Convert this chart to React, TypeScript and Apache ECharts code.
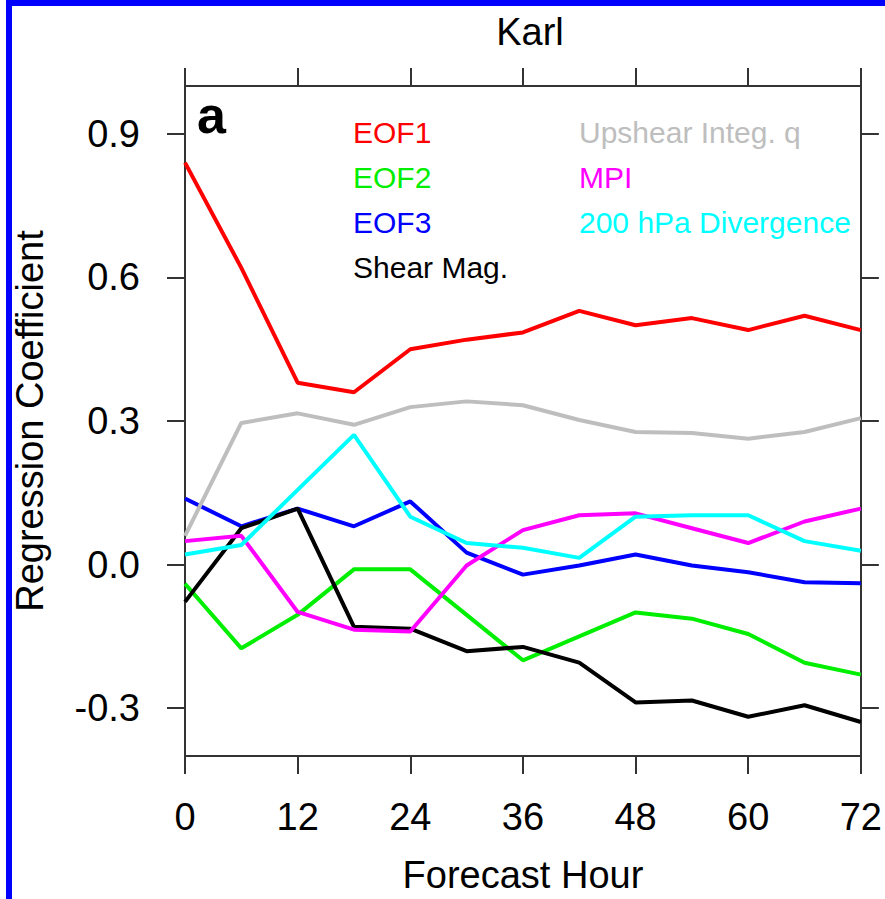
import React, { useEffect, useRef } from "react";
import * as echarts from "echarts";

const hours = [0, 6, 12, 18, 24, 30, 36, 42, 48, 54, 60, 66, 72];
const xTicks = [0, 12, 24, 36, 48, 60, 72];
const yTicks = [-0.3, 0, 0.3, 0.6, 0.9];

const eof1 = [0.84, 0.62, 0.38, 0.36, 0.45, 0.47, 0.485, 0.53, 0.5, 0.515, 0.49, 0.52, 0.49];
const eof2 = [-0.04, -0.175, -0.105, -0.01, -0.01, -0.105, -0.2, -0.15, -0.1, -0.113, -0.145, -0.205, -0.23];
const eof3 = [0.138, 0.08, 0.117, 0.08, 0.132, 0.025, -0.021, -0.002, 0.021, -0.002, -0.016, -0.037, -0.039];
const shearMag = [-0.078, 0.076, 0.117, -0.13, -0.134, -0.181, -0.172, -0.205, -0.288, -0.284, -0.318, -0.294, -0.329];
const upshearQ = [0.06, 0.296, 0.316, 0.292, 0.329, 0.341, 0.333, 0.302, 0.277, 0.275, 0.263, 0.277, 0.306];
const mpi = [0.049, 0.06, -0.099, -0.136, -0.14, -0.002, 0.072, 0.103, 0.107, 0.076, 0.045, 0.09, 0.117];
const div200 = [0.021, 0.041, 0.156, 0.271, 0.1, 0.045, 0.035, 0.014, 0.1, 0.103, 0.103, 0.049, 0.029];

const seriesNames = ["EOF1", "EOF2", "EOF3", "Shear Mag.", "Upshear Integ. q", "MPI", "200 hPa Divergence"];
const seriesValues = [eof1, eof2, eof3, shearMag, upshearQ, mpi, div200];
const seriesColors = ["#ff0000", "#00ee00", "#0000ff", "#000000", "#bebebe", "#ff00ff", "#00ffff"];

const FONT = "'Liberation Sans', Arial, Helvetica, sans-serif";

export default function App() {
  const ref = useRef<HTMLDivElement>(null);
  useEffect(() => {
    if (!ref.current) return;
    const chart = echarts.init(ref.current, undefined, { renderer: "svg" });
    const axisLine = { show: true, onZero: false, lineStyle: { color: "#333", width: 2 } };
    const axisTick = { show: true, inside: false, length: 18, lineStyle: { color: "#333", width: 2 } };
    const legendItem = (i: number) => ({ name: seriesNames[i], textStyle: { color: seriesColors[i] } });
    const legendCommon = {
      orient: "vertical",
      icon: "rect",
      itemWidth: 0,
      itemHeight: 0,
      itemGap: 15,
      top: 117,
      padding: 0,
      selectedMode: false,
      textStyle: { fontFamily: FONT, fontSize: 30, lineHeight: 30, padding: 0 },
    };
    chart.setOption({
      animation: false,
      backgroundColor: "#ffffff",
      title: {
        text: "Karl",
        left: 525,
        top: 8,
        textAlign: "center",
        textStyle: { fontFamily: FONT, fontSize: 38, fontWeight: "normal", color: "#000" },
      },
      legend: [
        { ...legendCommon, left: 348, data: [0, 1, 2, 3].map(legendItem) },
        { ...legendCommon, left: 574, data: [4, 5, 6].map(legendItem) },
      ],
      grid: { left: 185, right: 23, top: 86, bottom: 135, containLabel: false },
      xAxis: [
        {
          type: "value",
          position: "bottom",
          min: 0,
          max: 72,
          interval: 12,
          name: "Forecast Hour",
          nameLocation: "middle",
          nameGap: 100,
          nameTextStyle: { fontFamily: FONT, fontSize: 38, color: "#000" },
          axisLine,
          axisTick,
          axisLabel: { margin: 42, fontFamily: FONT, fontSize: 38, color: "#000", customValues: xTicks },
          splitLine: { show: false },
        },
        {
          type: "value",
          position: "top",
          min: 0,
          max: 72,
          interval: 12,
          axisLine,
          axisTick,
          axisLabel: { show: false },
          splitLine: { show: false },
        },
      ],
      yAxis: [
        {
          type: "value",
          position: "left",
          min: -0.4,
          max: 1.0,
          name: "Regression Coefficient",
          nameLocation: "middle",
          nameGap: 136,
          nameTextStyle: { fontFamily: FONT, fontSize: 38, color: "#000" },
          axisLine,
          axisTick: { ...axisTick, customValues: yTicks },
          axisLabel: {
            margin: 45,
            fontFamily: FONT,
            fontSize: 38,
            color: "#000",
            customValues: yTicks,
            formatter: (v: number) => v.toFixed(1),
          },
          splitLine: { show: false },
        },
        {
          type: "value",
          position: "right",
          min: -0.4,
          max: 1.0,
          axisLine,
          axisTick: { ...axisTick, customValues: yTicks },
          axisLabel: { show: false },
          splitLine: { show: false },
        },
      ],
      graphic: [
        { type: "rect", shape: { x: 6, y: 0, width: 879, height: 6 }, style: { fill: "#0000ff" }, z: 100 },
        { type: "rect", shape: { x: 6, y: 0, width: 6, height: 899 }, style: { fill: "#0000ff" }, z: 100 },
        {
          type: "text",
          x: 197,
          y: 115,
          style: {
            text: "a",
            font: `bold 52px ${FONT}`,
            fill: "#000",
            verticalAlign: "middle",
          },
          z: 100,
        },
      ],
      series: seriesNames.map((name, i) => ({
        name,
        type: "line",
        xAxisIndex: 0,
        yAxisIndex: 0,
        data: hours.map((h, j) => [h, seriesValues[i][j]]),
        showSymbol: false,
        symbol: "none",
        lineStyle: { color: seriesColors[i], width: 4 },
        itemStyle: { color: seriesColors[i] },
      })),
    });
    return () => chart.dispose();
  }, []);
  return (
    <div
      ref={ref}
      style={{ position: "fixed", left: 0, top: 0, width: 885, height: 899, background: "#fff" }}
    />
  );
}
